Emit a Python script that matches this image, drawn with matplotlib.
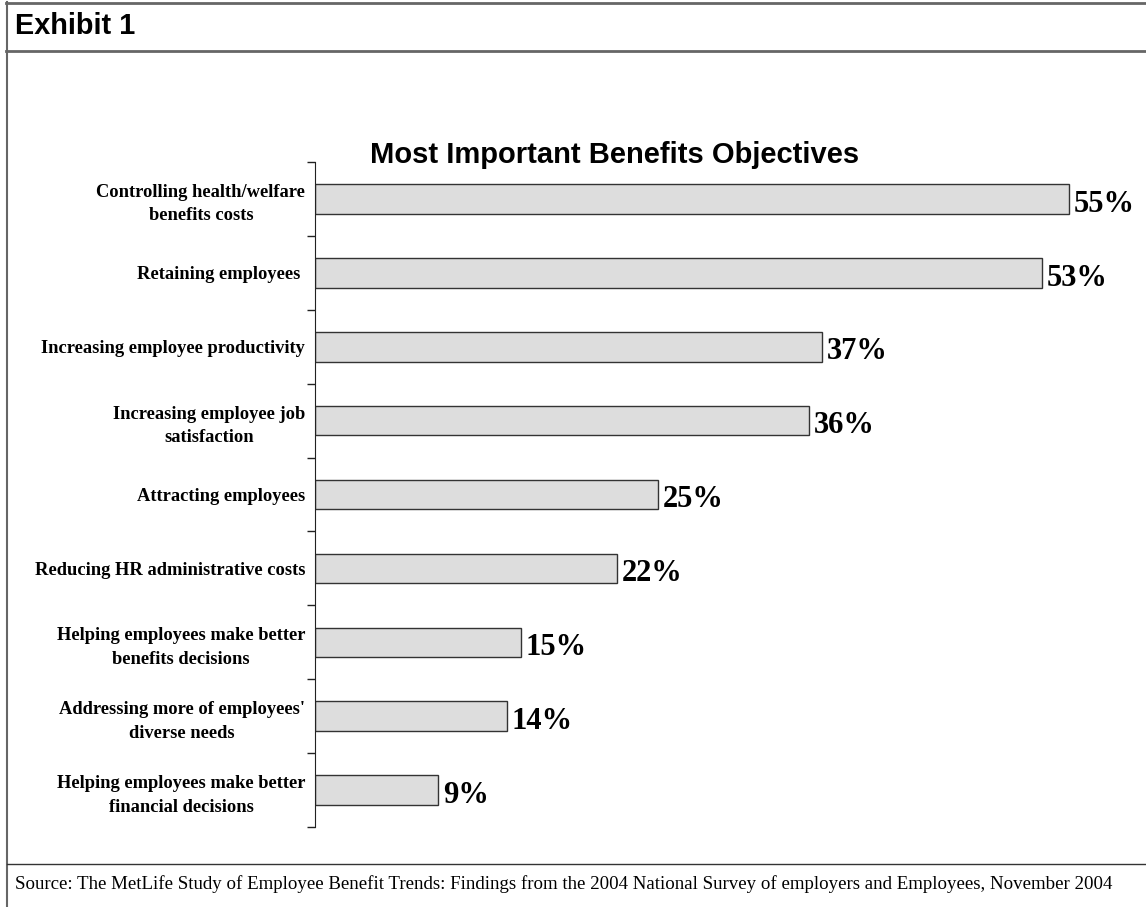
import matplotlib.pyplot as plt
import numpy as np
from matplotlib.lines import Line2D

categories = [
    "Controlling health/welfare\nbenefits costs",
    "Retaining employees ",
    "Increasing employee productivity",
    "Increasing employee job\nsatisfaction",
    "Attracting employees",
    "Reducing HR administrative costs",
    "Helping employees make better\nbenefits decisions",
    "Addressing more of employees'\ndiverse needs",
    "Helping employees make better\nfinancial decisions",
]
values = [55, 53, 37, 36, 25, 22, 15, 14, 9]
value_labels = ["55%", "53%", "37%", "36%", "25%", "22%", "15%", "14%", "9%"]

W, H = 1146, 907
fig = plt.figure(figsize=(W / 100, H / 100), dpi=100)

# frame lines (pixel coords -> figure fraction)
def fx(px):
    return px / W

def fy(py):
    return 1 - py / H

frame = "#666666"
fig.add_artist(Line2D([fx(6), 1], [fy(2.5), fy(2.5)], color=frame, lw=2))
fig.add_artist(Line2D([fx(6), 1], [fy(50.5), fy(50.5)], color=frame, lw=2))
fig.add_artist(Line2D([fx(7), fx(7)], [0, fy(2)], color=frame, lw=1.5))
fig.add_artist(Line2D([fx(7), 1], [fy(863.5), fy(863.5)], color="#333333", lw=1))

fig.text(fx(15), fy(34), "Exhibit 1", fontsize=20.8, fontweight="bold",
         family="Liberation Sans", va="baseline", ha="left")
fig.text(fx(15), fy(889), "Source: The MetLife Study of Employee Benefit Trends: Findings from the "
         "2004 National Survey of employers and Employees, November 2004",
         fontsize=13.6, family="Liberation Serif", va="baseline", ha="left")
fig.text(fx(615), fy(163), "Most Important Benefits Objectives", fontsize=21,
         fontweight="bold", family="Liberation Sans", va="baseline", ha="center")

# axes: x scale ~13.7 px per percent
xmax = 60
ax = fig.add_axes([fx(315), fy(827), (xmax * 13.71) / W, (827 - 162) / H])
n = len(categories)
y = np.arange(n)
ax.barh(y, values, height=0.4, color="#dddddd", edgecolor="#333333", linewidth=1)
ax.set_xlim(0, xmax)
ax.set_ylim(n - 0.5, -0.5)

for yi, v, lab in zip(y, values, value_labels):
    ax.text(v + 0.35, yi + 0.07, lab, fontsize=22, fontweight="bold",
            family="Liberation Serif", va="center", ha="left", clip_on=False)

ax.set_yticks(np.arange(n + 1) - 0.5)
ax.set_yticklabels([])
ax.tick_params(axis="y", which="major", direction="out", length=6, width=1, color="#222222")
ax.set_yticks(y, minor=True)
ax.set_yticklabels(categories, minor=True, fontsize=13.3, fontweight="bold",
                   family="Liberation Serif", multialignment="center", linespacing=1.5)
ax.tick_params(axis="y", which="minor", length=0, pad=7)
ax.set_xticks([])
for s in ["top", "right", "bottom"]:
    ax.spines[s].set_visible(False)
ax.spines["left"].set_color("#222222")
ax.patch.set_alpha(0)

fig.savefig("out.png", dpi=100)
